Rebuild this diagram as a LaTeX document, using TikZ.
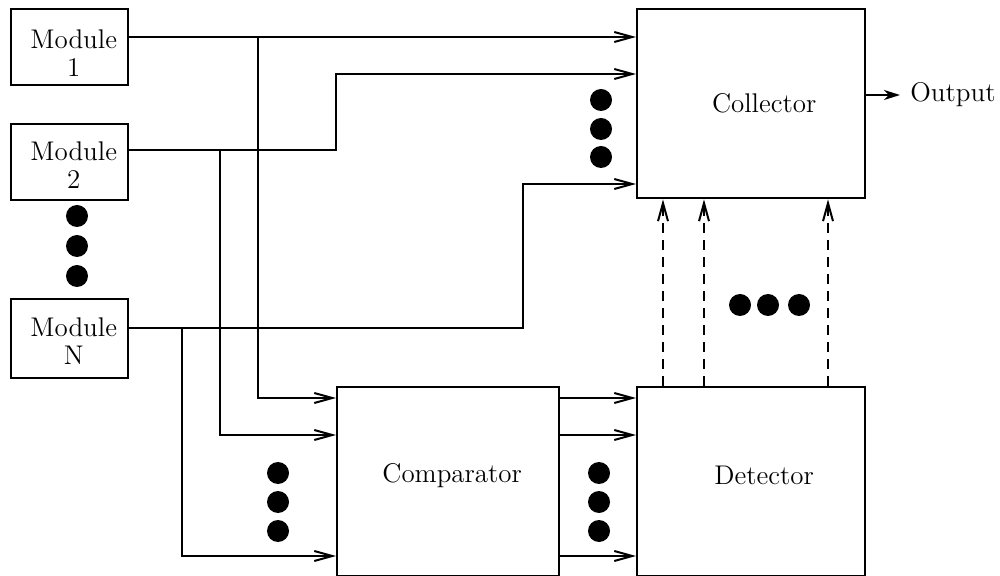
\documentclass[tikz,border=0pt]{standalone}
\usepackage{tikz}
\usetikzlibrary{arrows.meta,positioning,calc}

\begin{document}
\begin{tikzpicture}[
  x=0.5pt, y=-0.5pt,
  box/.style={draw, line width=1.2pt, inner sep=0pt, anchor=north west},
  modbox/.style={box, minimum width=58.5pt, minimum height=38pt},
  bigbox/.style={box, minimum width=112pt, minimum height=94.5pt},
  wire/.style={line width=1pt},
  sig/.style={line width=1pt, -{Straight Barb[length=9pt,width=5pt]}},
  ctrl/.style={line width=1pt, dash pattern=on 5pt off 3.5pt,
               -{Straight Barb[length=9pt,width=5pt]}},
  outarr/.style={line width=1pt, shorten >=5pt,
                 -{Stealth[length=8pt,width=5pt,inset=2.5pt]}},
  lbl/.style={align=center, inner sep=0pt},
  every node/.style={font=\fontsize{13.5}{14}\selectfont}]

\useasboundingbox (0,0) rectangle (1000,576);

% ---- the boxes ---------------------------------------------------------
\node[modbox] (m1) at (10,8) {};
\node[modbox] (m2) at (10,123) {};
\node[modbox, minimum height=39.5pt] (mN) at (10,298) {};
\node[bigbox, minimum width=114pt] (col) at (636,8) {};
\node[bigbox, minimum width=111pt, minimum height=94.5pt] (cmp) at (336,386) {};
\node[bigbox, minimum width=114pt, minimum height=94.5pt] (det) at (636,386) {};

\node[lbl] (m1txt) at ([xshift=2pt,yshift=-3pt]m1.center) {Module\\1};
\node[lbl] (m2txt) at ([xshift=2pt,yshift=-1.5pt]m2.center) {Module\\2};
\node[lbl] (mNtxt) at ([xshift=2pt,yshift=-1pt]mN.center) {Module\\N};
\node[lbl] (coltxt) at ([xshift=6.5pt]col.center) {Collector};
\node[lbl] (cmptxt) at ([xshift=2pt,yshift=3pt]cmp.center) {Comparator};
\node[lbl] (dettxt) at ([xshift=6.5pt,yshift=3pt]det.center) {Detector};
\node[lbl, anchor=west] (out) at (910,95) {Output};

% ---- tap points on the module lines ------------------------------------
\coordinate (t1) at (258,37);
\coordinate (t2) at (220,150);
\coordinate (tN) at (182,328);
\coordinate (k2) at (336,150);
\coordinate (kN) at (523,328);

% ---- module outputs to the collector -----------------------------------
\draw[sig] (m1.east |- t1) -- (col.west |- t1);
\draw[sig] (m2.east |- t2) -- (k2) |- (col.west |- 0,74);
\draw[sig] (mN.east |- tN) -- (kN) |- (col.west |- 0,184);

% ---- module outputs to the comparator ----------------------------------
\draw[sig] (t1) |- (cmp.west |- 0,398);
\draw[sig] (t2) |- (cmp.west |- 0,435);
\draw[sig] (tN) |- (cmp.west |- 0,556);

% ---- comparator to detector --------------------------------------------
\foreach \yy in {398,435,556}
  \draw[sig] (cmp.east |- 0,\yy) -- (det.west |- 0,\yy);

% ---- detector to collector, dashed -------------------------------------
\foreach \xx in {663,704,828}
  \draw[ctrl] (det.north -| \xx,0) -- (col.south -| \xx,0);

% ---- collector output --------------------------------------------------
\draw[outarr] (col.east |- out) -- (out.west);

% ---- the ellipsis dots -------------------------------------------------
\foreach \yy in {216,246,276} \fill (77,\yy) circle (5.5pt);
\foreach \yy in {100,129,157} \fill (601,\yy) circle (5.5pt);
\foreach \yy in {473,502,531} \fill (278,\yy) circle (5.5pt);
\foreach \yy in {473,502,531} \fill (599,\yy) circle (5.5pt);
\foreach \xx in {740,768,799} \fill (\xx,305) circle (5.5pt);
\end{tikzpicture}
\end{document}
